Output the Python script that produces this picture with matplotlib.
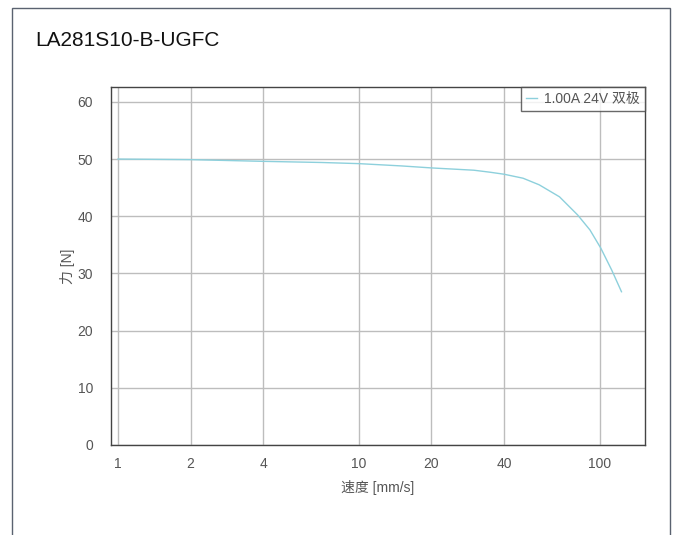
import matplotlib
matplotlib.use("Agg")
import matplotlib.pyplot as plt
from matplotlib.patches import Rectangle
from matplotlib.lines import Line2D
from matplotlib.ticker import FixedLocator, FixedFormatter, NullLocator

plt.rcParams['font.family'] = ['Liberation Sans', 'Noto Sans CJK SC', 'DejaVu Sans']

title = "LA281S10-B-UGFC"
series_label = "1.00A 24V 双极"
x_label = "速度 [mm/s]"
y_label = "力 [N]"

speed = [1, 2, 4, 7, 10, 15, 20, 30, 35, 40, 48, 56, 68, 81, 91, 101, 112, 123]
force = [50.0, 49.9, 49.6, 49.4, 49.2, 48.8, 48.45, 48.05, 47.7, 47.35, 46.65, 45.5, 43.4, 40.2, 37.6, 34.4, 30.6, 26.8]

x_ticks = [1, 2, 4, 10, 20, 40, 100]
x_tick_labels = ["1", "2", "4", "10", "20", "40", "100"]
y_ticks = [0, 10, 20, 30, 40, 50, 60]

fig = plt.figure(figsize=(6.8, 5.35), dpi=100)
# outer frame
fig.patches.append(Rectangle((12/680, -0.05), (670-12)/680, 1 - 8/535 + 0.05,
                             transform=fig.transFigure, fill=False,
                             edgecolor='#5a6270', linewidth=1.0))
fig.text(35/680, 1 - 40/535, title, fontsize=15, color='#111111', va='center', ha='left')

ax = fig.add_axes([111/680, 1 - 445/535, (645-111)/680, (445-87)/535])
ax.set_xscale('log')
ax.set_xlim(0.935, 154)
ax.set_ylim(0, 62.6)

ax.plot(speed, force, color='#8dd0dc', linewidth=1.0, label=series_label)

ax.xaxis.set_major_locator(FixedLocator(x_ticks))
ax.xaxis.set_major_formatter(FixedFormatter(x_tick_labels))
ax.xaxis.set_minor_locator(NullLocator())
ax.set_yticks(y_ticks)
ax.grid(True, color='#bdbdbd', linewidth=1.0)
ax.set_axisbelow(True)
ax.tick_params(length=0, labelsize=10, colors='#555555')
ax.tick_params(axis='y', pad=13)
ax.tick_params(axis='x', pad=9)
for s in ax.spines.values():
    s.set_color('#444444')
    s.set_linewidth(1.0)

ax.set_xlabel(x_label, fontsize=10, color='#555555', labelpad=6)
ax.set_ylabel(y_label, fontsize=10, color='#555555', labelpad=2)

handle = Line2D([], [], color='#8dd0dc', linewidth=1.0)
leg = ax.legend([handle], [series_label], loc='upper right', fontsize=10,
                frameon=True, fancybox=False, borderaxespad=0.0,
                handlelength=0.8, handletextpad=0.5, borderpad=0.35)
leg.get_frame().set_edgecolor('#444444')
leg.get_frame().set_linewidth(1.0)
for t in leg.get_texts():
    t.set_color('#555555')

fig.savefig("out.png", dpi=100)
